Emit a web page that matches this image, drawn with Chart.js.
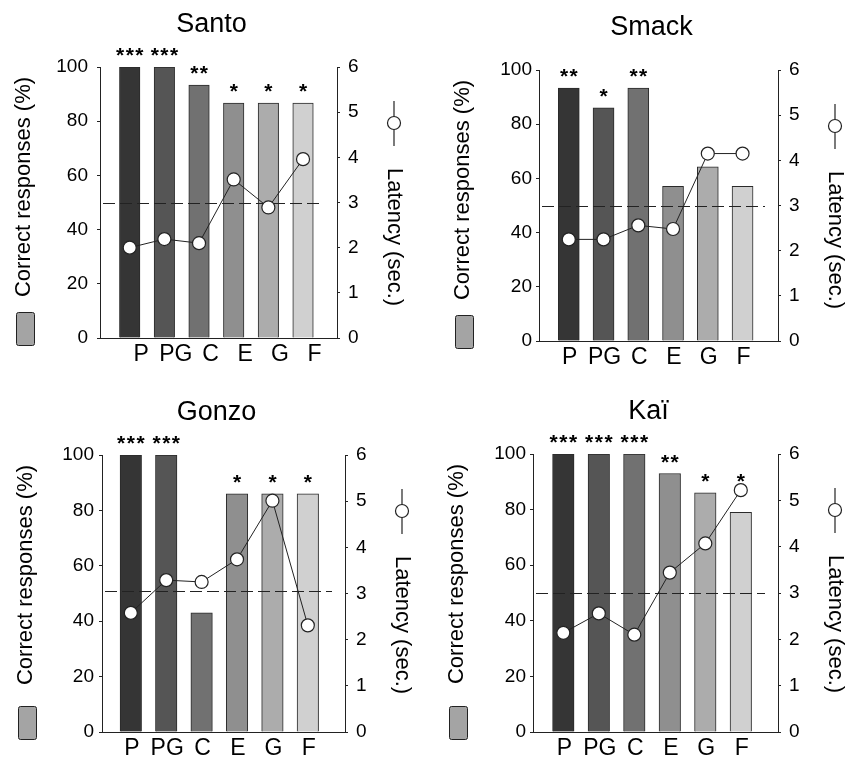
<!DOCTYPE html>
<html>
<head>
<meta charset="utf-8">
<script src="https://cdn.jsdelivr.net/npm/chart.js@4.4.1/dist/chart.umd.min.js"></script>
<style>
  body { margin: 0; background: #fff; width: 853px; height: 764px; position: relative; overflow: hidden; }
  canvas { position: absolute; }
</style>
</head>
<body>
<canvas id="c0"></canvas>
<canvas id="c1"></canvas>
<canvas id="c2"></canvas>
<canvas id="c3"></canvas>
<script>
// data
const categories = ['P', 'PG', 'C', 'E', 'G', 'F'];
const panelNames = ['Santo', 'Smack', 'Gonzo', 'Kaï'];
const correctTicks = [0, 20, 40, 60, 80, 100];
const latencyTicks = [0, 1, 2, 3, 4, 5, 6];

const santoCorrect = [100, 100, 93.3, 86.7, 86.7, 86.7];
const santoLatency = [2.0, 2.19, 2.1, 3.51, 2.89, 3.96];
const santoStars = ['***', '***', '**', '*', '*', '*'];

const smackCorrect = [93.3, 86, 93.3, 57.1, 64.3, 57.1];
const smackLatency = [2.25, 2.25, 2.56, 2.48, 4.15, 4.15];
const smackStars = ['**', '*', '**', '', '', ''];

const gonzoCorrect = [100, 100, 43, 86, 86, 86];
const gonzoLatency = [2.58, 3.29, 3.25, 3.74, 5.01, 2.31];
const gonzoStars = ['***', '***', '', '*', '*', '*'];

const kaiCorrect = [100, 100, 100, 93, 86, 79];
const kaiLatency = [2.14, 2.56, 2.1, 3.44, 4.07, 5.22];
const kaiStars = ['***', '***', '***', '**', '*', '*'];

const chanceLevel = [50, 50, 51, 50];

// styles
const barGrays = ['#353535', '#555555', '#717171', '#8f8f8f', '#acacac', '#d0d0d0'];
const INK = '#000';
const LINE = '#222';
const FONT = '"Liberation Sans", Arial, sans-serif';
Chart.defaults.font.family = FONT;

// layout of each panel on the page
const panels = [
  { name: panelNames[0], correct: santoCorrect, latency: santoLatency, stars: santoStars, chance: chanceLevel[0],
    box: [0, 0, 430, 380], area: [100, 337, 67, 338], xRange: [-0.857, 5.98], bar: 20.5, shift: 11.5, padL: 9 },
  { name: panelNames[1], correct: smackCorrect, latency: smackLatency, stars: smackStars, chance: chanceLevel[1],
    box: [430, 0, 423, 380], area: [539, 778, 70, 341], xRange: [-0.857, 6.02], bar: 21, shift: 1, padL: 4 },
  { name: panelNames[2], correct: gonzoCorrect, latency: gonzoLatency, stars: gonzoStars, chance: chanceLevel[2],
    box: [0, 380, 430, 384], area: [102, 345, 455, 732], xRange: [-0.814, 6.05], bar: 21.5, shift: 1, padL: 5 },
  { name: panelNames[3], correct: kaiCorrect, latency: kaiLatency, stars: kaiStars, chance: chanceLevel[3],
    box: [430, 380, 423, 384], area: [533, 778, 454, 732], xRange: [-0.854, 6.048], bar: 21.5, shift: 1, padL: 4 }
];

const LEFT_W = 50, RIGHT_W = 40, BOTTOM_H = 30;

panels.forEach((p, k) => {
  const [ox, oy, w, h] = p.box;
  const [L, R, T, B] = p.area;
  const cv = document.getElementById('c' + k);
  cv.width = w;
  cv.height = h;
  cv.style.left = ox + 'px';
  cv.style.top = oy + 'px';

  const decor = {
    id: 'decor' + k,
    afterDatasetDraw(chart, args) {
      if (args.index !== 0) return;
      // dashed chance line, above the bars and under the latency line
      const { ctx, chartArea: a } = chart;
      const y = Math.round(chart.scales.y.getPixelForValue(p.chance)) + 0.5;
      ctx.save();
      ctx.strokeStyle = LINE;
      ctx.lineWidth = 1;
      ctx.setLineDash([12, 5]);
      ctx.beginPath();
      ctx.moveTo(a.left + 3, y);
      ctx.lineTo(a.right - 13, y);
      ctx.stroke();
      ctx.restore();
    },
    afterDraw(chart) {
      const { ctx, chartArea: a, scales } = chart;
      ctx.save();
      ctx.fillStyle = INK;
      ctx.strokeStyle = LINE;

      // panel title
      ctx.font = '27px ' + FONT;
      ctx.textAlign = 'center';
      ctx.textBaseline = 'alphabetic';
      ctx.fillText(p.name, (a.left + a.right) / 2 - 7, a.top - 35);

      // left axis title + bar legend box
      ctx.save();
      ctx.translate(a.left - 76, a.top + 120);
      ctx.rotate(-Math.PI / 2);
      ctx.font = '22px ' + FONT;
      ctx.textBaseline = 'middle';
      ctx.fillText('Correct responses (%)', 0, 0);
      ctx.restore();

      ctx.beginPath();
      ctx.roundRect(a.left - 84 + 0.5, a.bottom - 26 + 0.5, 18, 33, 2);
      ctx.fillStyle = '#a4a4a4';
      ctx.fill();
      ctx.lineWidth = 1;
      ctx.stroke();
      ctx.fillStyle = INK;

      // right axis title + line legend symbol
      const rx = a.right + 57;
      ctx.save();
      ctx.translate(rx, a.top + 170);
      ctx.rotate(Math.PI / 2);
      ctx.font = '22px ' + FONT;
      ctx.textBaseline = 'middle';
      ctx.fillText('Latency (sec.)', 0, 0);
      ctx.restore();

      ctx.beginPath();
      ctx.moveTo(rx, a.top + 34);
      ctx.lineTo(rx, a.top + 79);
      ctx.lineWidth = 1.2;
      ctx.stroke();
      ctx.beginPath();
      ctx.arc(rx, a.top + 56, 6.5, 0, Math.PI * 2);
      ctx.fillStyle = '#fff';
      ctx.fill();
      ctx.stroke();

      // significance stars
      ctx.fillStyle = INK;
      ctx.font = 'bold 21px ' + FONT;
      ctx.letterSpacing = '1.5px';
      ctx.textAlign = 'center';
      p.stars.forEach((s, i) => {
        if (!s) return;
        const x = scales.x.getPixelForValue(i);
        const c = Math.min(scales.y.getPixelForValue(p.correct[i]) - 17,
                           scales.y2.getPixelForValue(p.latency[i]) - 14);
        ctx.fillText(s, x + 0.8, c + 12.2);
      });
      ctx.restore();
    }
  };

  const yGrid = { display: true, drawOnChartArea: false, drawTicks: true, tickLength: 3, color: LINE };
  const border = { display: true, color: LINE, width: 1 };

  new Chart(cv, {
    type: 'bar',
    data: {
      datasets: [
        {
          type: 'bar',
          data: categories.map((c, i) => ({ x: i, y: p.correct[i] })),
          backgroundColor: barGrays,
          borderColor: '#2a2a2a',
          borderWidth: 1,
          barThickness: p.bar,
          yAxisID: 'y',
          order: 1
        },
        {
          type: 'line',
          data: categories.map((c, i) => ({ x: i, y: p.latency[i] })),
          borderColor: LINE,
          borderWidth: 1,
          pointRadius: 6.5,
          pointBackgroundColor: '#fff',
          pointBorderColor: LINE,
          pointBorderWidth: 1.2,
          tension: 0,
          yAxisID: 'y2',
          order: 0
        }
      ]
    },
    options: {
      responsive: false,
      animation: false,
      devicePixelRatio: 1,
      layout: {
        padding: {
          left: L - ox - LEFT_W,
          right: ox + w - R - RIGHT_W,
          top: T - oy,
          bottom: oy + h - B - BOTTOM_H
        }
      },
      plugins: { legend: { display: false }, tooltip: { enabled: false } },
      scales: {
        x: {
          type: 'linear',
          min: p.xRange[0],
          max: p.xRange[1],
          offset: false,
          afterBuildTicks: ax => { ax.ticks = categories.map((c, i) => ({ value: i })); },
          afterFit: ax => { ax.height = BOTTOM_H; },
          grid: { display: false, drawTicks: false },
          border: border,
          ticks: {
            callback: v => categories[v] ?? '',
            font: { size: 23 },
            color: INK,
            padding: 3,
            labelOffset: p.shift,
            autoSkip: false,
            maxRotation: 0
          }
        },
        y: {
          position: 'left',
          min: 0,
          max: 100,
          afterBuildTicks: ax => { ax.ticks = correctTicks.map(v => ({ value: v })); },
          afterFit: ax => { ax.width = LEFT_W; },
          grid: yGrid,
          border: border,
          ticks: { font: { size: 19 }, color: INK, padding: p.padL }
        },
        y2: {
          position: 'right',
          min: 0,
          max: 6,
          afterBuildTicks: ax => { ax.ticks = latencyTicks.map(v => ({ value: v })); },
          afterFit: ax => { ax.width = RIGHT_W; },
          grid: yGrid,
          border: border,
          ticks: { font: { size: 19 }, color: INK, padding: 8 }
        }
      }
    },
    plugins: [decor]
  });
});
</script>
</body>
</html>
